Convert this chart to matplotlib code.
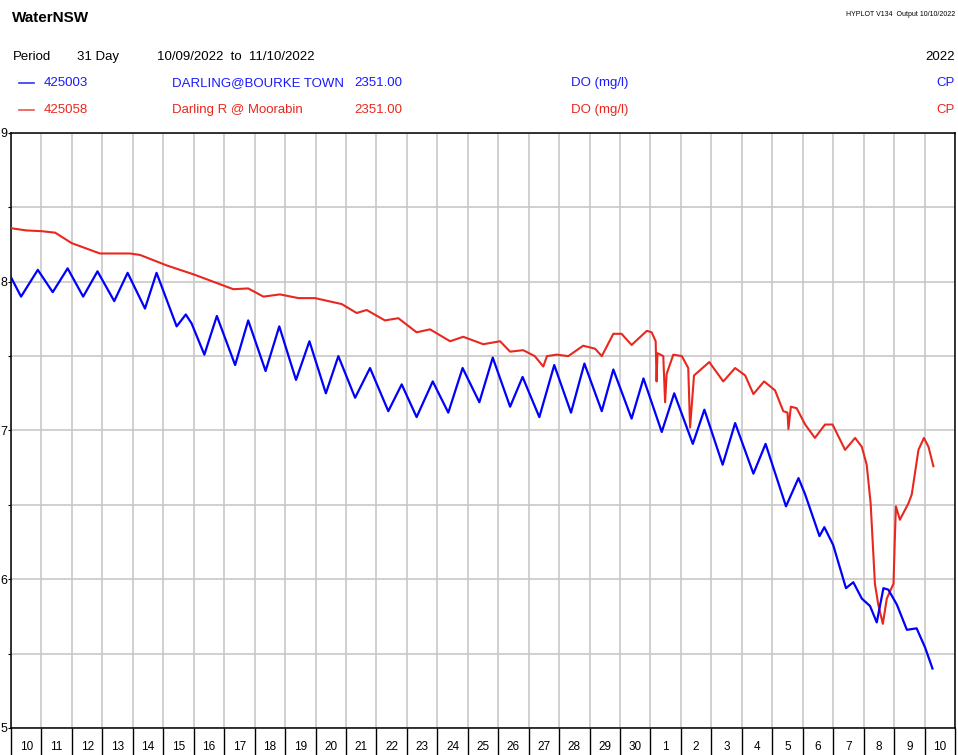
import matplotlib
matplotlib.use("Agg")
import matplotlib.pyplot as plt
from matplotlib.lines import Line2D
import numpy as np

# DO readings, x = days since 10/09/2022 00:00
blue_day = [0.0, 0.33, 0.88, 1.37, 1.86, 2.37, 2.84, 3.39, 3.83, 4.40, 4.78, 5.11, 5.44, 5.74, 5.93,
            6.35, 6.76, 7.36, 7.79, 8.36, 8.81, 9.36, 9.80, 10.34, 10.75, 11.30, 11.79, 12.39, 12.83,
            13.32, 13.85, 14.36, 14.83, 15.38, 15.82, 16.39, 16.80, 17.35, 17.84, 18.39, 18.83, 19.40,
            19.78, 20.38, 20.77, 21.37, 21.78, 22.39, 22.77, 23.37, 23.78, 24.38, 24.78, 25.45, 25.86,
            26.08, 26.55, 26.71, 27.00, 27.42, 27.66, 27.94, 28.21, 28.43, 28.65, 28.81, 29.09, 29.42,
            29.74, 30.02, 30.26]
blue_do = [8.03, 7.90, 8.08, 7.93, 8.09, 7.90, 8.07, 7.87, 8.06, 7.82, 8.06, 7.88, 7.70, 7.78, 7.72,
           7.51, 7.77, 7.44, 7.74, 7.40, 7.70, 7.34, 7.60, 7.25, 7.50, 7.22, 7.42, 7.13, 7.31,
           7.09, 7.33, 7.12, 7.42, 7.19, 7.49, 7.16, 7.36, 7.09, 7.44, 7.12, 7.45, 7.13,
           7.41, 7.08, 7.35, 6.99, 7.25, 6.91, 7.14, 6.77, 7.05, 6.71, 6.91, 6.49, 6.68,
           6.57, 6.29, 6.35, 6.23, 5.94, 5.98, 5.87, 5.82, 5.71, 5.94, 5.93, 5.83, 5.66,
           5.67, 5.54, 5.40]

red_day = [0.0, 0.5, 1.0, 1.45, 1.99, 2.92, 3.91, 4.24, 5.11, 5.99, 7.30, 7.79, 8.29, 8.83, 9.44,
           9.98, 10.86, 11.35, 11.68, 12.28, 12.72, 13.32, 13.76, 14.42, 14.85, 15.51, 16.06, 16.39,
           16.82, 17.20, 17.48, 17.60, 17.92, 18.30, 18.79, 19.18, 19.40, 19.78, 20.05, 20.38, 20.88,
           21.04, 21.17, 21.20, 21.23, 21.42, 21.48, 21.53, 21.75, 22.03, 22.24, 22.30, 22.43, 22.93,
           23.39, 23.78, 24.11, 24.38, 24.73, 25.09, 25.36, 25.50, 25.53, 25.61, 25.80, 26.08, 26.40,
           26.73, 26.98, 27.39, 27.72, 27.94, 28.10, 28.23, 28.37, 28.48, 28.63, 28.76, 28.87, 28.98,
           29.03, 29.06, 29.19, 29.47, 29.58, 29.80, 29.98, 30.13, 30.29]
red_do = [8.36, 8.345, 8.34, 8.33, 8.26, 8.19, 8.19, 8.18, 8.11, 8.05, 7.95, 7.955, 7.90, 7.915, 7.89,
          7.89, 7.85, 7.79, 7.81, 7.74, 7.755, 7.66, 7.68, 7.60, 7.63, 7.58, 7.60, 7.53,
          7.54, 7.50, 7.43, 7.50, 7.51, 7.50, 7.57, 7.55, 7.50, 7.65, 7.65, 7.575, 7.67,
          7.66, 7.60, 7.33, 7.52, 7.50, 7.19, 7.38, 7.51, 7.50, 7.42, 7.02, 7.37, 7.46,
          7.33, 7.42, 7.37, 7.245, 7.33, 7.27, 7.13, 7.12, 7.01, 7.16, 7.15, 7.04, 6.95,
          7.04, 7.04, 6.87, 6.95, 6.89, 6.77, 6.51, 5.97, 5.83, 5.70, 5.87, 5.92, 5.97,
          6.31, 6.49, 6.40, 6.51, 6.57, 6.87, 6.95, 6.89, 6.76]

day_labels = [str(d) for d in range(10, 31)] + [str(d) for d in range(1, 11)]

BLUE = "#0000ff"
RED = "#e8281e"
BLUE_TXT = "#1a1aff"

plt.rcParams['font.family'] = ['Liberation Sans', 'DejaVu Sans']

W, H = 958, 755
fig = plt.figure(figsize=(W / 100, H / 100), dpi=100)
ax = fig.add_axes([11 / W, 27 / H, 944 / W, 595 / H])


def fy(py):
    return 1 - py / H


# header block
fig.text(12 / W, fy(18), "WaterNSW", fontsize=11, fontweight="bold", va="center")
fig.text(955 / W, fy(15), "HYPLOT V134  Output 10/10/2022", fontsize=5, ha="right", va="center")
fig.text(13 / W, fy(57), "Period", fontsize=9.5, va="center")
fig.text(77 / W, fy(57), "31 Day", fontsize=9.5, va="center")
fig.text(157 / W, fy(57), "10/09/2022  to  11/10/2022", fontsize=9.5, va="center")
fig.text(955 / W, fy(57), "2022", fontsize=9.5, ha="right", va="center")

rows = [(83, BLUE, BLUE_TXT, "425003", "DARLING@BOURKE TOWN"),
        (110, RED, RED, "425058", "Darling R @ Moorabin")]
for py, lc, tc, site, name in rows:
    fig.add_artist(Line2D([19 / W, 34 / W], [fy(py), fy(py)], color=lc, lw=1.2, alpha=0.8))
    fig.text(44 / W, fy(py), site, fontsize=9.5, color=tc, va="center")
    fig.text(172 / W, fy(py), name, fontsize=9.5, color=tc, va="center")
    fig.text(354 / W, fy(py), "2351.00", fontsize=9.5, color=tc, va="center")
    fig.text(571 / W, fy(py), "DO (mg/l)", fontsize=9.5, color=tc, va="center")
    fig.text(955 / W, fy(py), "CP", fontsize=9.5, color=tc, ha="right", va="center")

ax.plot(red_day, red_do, color=RED, lw=1.5, zorder=3)
ax.plot(blue_day, blue_do, color=BLUE, lw=1.6, zorder=4)

ax.set_xlim(0, 31)
ax.set_ylim(5, 9)

ax.set_xticks(range(32))
ax.set_xticklabels([])
ax.set_xticks(np.arange(31) + 0.5, minor=True)
ax.set_xticklabels(day_labels, minor=True, fontsize=8.5)
ax.tick_params(axis="x", which="major", length=20, width=1, direction="out", color="black")
ax.tick_params(axis="x", which="minor", length=0, pad=9)

yt = np.arange(5, 9.01, 0.5)
ax.set_yticks(yt)
ax.set_yticklabels([str(int(v)) if v == int(v) else "" for v in yt], fontsize=9)
ax.tick_params(axis="y", length=2.5, width=0.8, pad=0)

ax.grid(True, which="major", color="#c8c8c8", lw=1.2)
ax.set_axisbelow(True)
for s in ax.spines.values():
    s.set_linewidth(1.1)

fig.savefig("out.png", dpi=100)
